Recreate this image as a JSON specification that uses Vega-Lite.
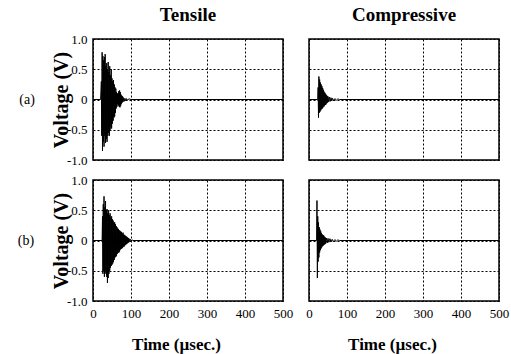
{
  "$schema": "https://vega.github.io/schema/vega-lite/v6.json",
  "background": "white",
  "padding": {"left": 17, "top": 6, "right": 2, "bottom": 2},
  "bounds": "flush",
  "data": {"values": [
    {"m":"Tensile","c":"(a)","t":0,"v":0},{"m":"Tensile","c":"(a)","t":20,"v":0},{"m":"Tensile","c":"(a)","t":22,"v":0.3},{"m":"Tensile","c":"(a)","t":23,"v":-0.6},{"m":"Tensile","c":"(a)","t":24,"v":0.78},{"m":"Tensile","c":"(a)","t":25,"v":-0.85},{"m":"Tensile","c":"(a)","t":26,"v":0.72},{"m":"Tensile","c":"(a)","t":27,"v":-0.7},{"m":"Tensile","c":"(a)","t":28,"v":0.65},{"m":"Tensile","c":"(a)","t":29,"v":-0.78},{"m":"Tensile","c":"(a)","t":30,"v":0.7},{"m":"Tensile","c":"(a)","t":31,"v":-0.6},{"m":"Tensile","c":"(a)","t":32,"v":0.75},{"m":"Tensile","c":"(a)","t":33,"v":-0.72},{"m":"Tensile","c":"(a)","t":34,"v":0.55},{"m":"Tensile","c":"(a)","t":35,"v":-0.65},{"m":"Tensile","c":"(a)","t":36,"v":0.6},{"m":"Tensile","c":"(a)","t":37,"v":-0.7},{"m":"Tensile","c":"(a)","t":38,"v":0.5},{"m":"Tensile","c":"(a)","t":39,"v":-0.6},{"m":"Tensile","c":"(a)","t":40,"v":0.62},{"m":"Tensile","c":"(a)","t":41,"v":-0.55},{"m":"Tensile","c":"(a)","t":42,"v":0.45},{"m":"Tensile","c":"(a)","t":43,"v":-0.6},{"m":"Tensile","c":"(a)","t":44,"v":0.55},{"m":"Tensile","c":"(a)","t":45,"v":-0.5},{"m":"Tensile","c":"(a)","t":46,"v":0.4},{"m":"Tensile","c":"(a)","t":47,"v":-0.45},{"m":"Tensile","c":"(a)","t":48,"v":0.5},{"m":"Tensile","c":"(a)","t":49,"v":-0.48},{"m":"Tensile","c":"(a)","t":50,"v":0.35},{"m":"Tensile","c":"(a)","t":51,"v":-0.4},{"m":"Tensile","c":"(a)","t":52,"v":0.3},{"m":"Tensile","c":"(a)","t":53,"v":-0.35},{"m":"Tensile","c":"(a)","t":54,"v":0.32},{"m":"Tensile","c":"(a)","t":55,"v":-0.3},{"m":"Tensile","c":"(a)","t":56,"v":0.25},{"m":"Tensile","c":"(a)","t":57,"v":-0.28},{"m":"Tensile","c":"(a)","t":58,"v":0.2},{"m":"Tensile","c":"(a)","t":59,"v":-0.22},{"m":"Tensile","c":"(a)","t":60,"v":0.18},{"m":"Tensile","c":"(a)","t":61,"v":-0.15},{"m":"Tensile","c":"(a)","t":62,"v":0.12},{"m":"Tensile","c":"(a)","t":63,"v":-0.12},{"m":"Tensile","c":"(a)","t":64,"v":0.1},{"m":"Tensile","c":"(a)","t":65,"v":-0.08},{"m":"Tensile","c":"(a)","t":66,"v":0.1},{"m":"Tensile","c":"(a)","t":67,"v":-0.1},{"m":"Tensile","c":"(a)","t":68,"v":0.14},{"m":"Tensile","c":"(a)","t":69,"v":-0.12},{"m":"Tensile","c":"(a)","t":70,"v":0.15},{"m":"Tensile","c":"(a)","t":71,"v":-0.13},{"m":"Tensile","c":"(a)","t":72,"v":0.12},{"m":"Tensile","c":"(a)","t":73,"v":-0.1},{"m":"Tensile","c":"(a)","t":74,"v":0.08},{"m":"Tensile","c":"(a)","t":75,"v":-0.07},{"m":"Tensile","c":"(a)","t":76,"v":0.06},{"m":"Tensile","c":"(a)","t":77,"v":-0.05},{"m":"Tensile","c":"(a)","t":78,"v":0.05},{"m":"Tensile","c":"(a)","t":79,"v":-0.04},{"m":"Tensile","c":"(a)","t":80,"v":0.03},{"m":"Tensile","c":"(a)","t":82,"v":-0.03},{"m":"Tensile","c":"(a)","t":84,"v":0.02},{"m":"Tensile","c":"(a)","t":86,"v":-0.02},{"m":"Tensile","c":"(a)","t":88,"v":0.015},{"m":"Tensile","c":"(a)","t":90,"v":-0.01},{"m":"Tensile","c":"(a)","t":95,"v":0.01},{"m":"Tensile","c":"(a)","t":100,"v":0},{"m":"Tensile","c":"(a)","t":500,"v":0},
    {"m":"Compressive","c":"(a)","t":0,"v":0},{"m":"Compressive","c":"(a)","t":23,"v":0},{"m":"Compressive","c":"(a)","t":24,"v":0.2},{"m":"Compressive","c":"(a)","t":25,"v":-0.3},{"m":"Compressive","c":"(a)","t":26,"v":0.38},{"m":"Compressive","c":"(a)","t":27,"v":-0.22},{"m":"Compressive","c":"(a)","t":28,"v":0.33},{"m":"Compressive","c":"(a)","t":29,"v":-0.2},{"m":"Compressive","c":"(a)","t":30,"v":0.28},{"m":"Compressive","c":"(a)","t":31,"v":-0.18},{"m":"Compressive","c":"(a)","t":32,"v":0.25},{"m":"Compressive","c":"(a)","t":33,"v":-0.16},{"m":"Compressive","c":"(a)","t":34,"v":0.22},{"m":"Compressive","c":"(a)","t":35,"v":-0.15},{"m":"Compressive","c":"(a)","t":36,"v":0.19},{"m":"Compressive","c":"(a)","t":37,"v":-0.13},{"m":"Compressive","c":"(a)","t":38,"v":0.16},{"m":"Compressive","c":"(a)","t":39,"v":-0.12},{"m":"Compressive","c":"(a)","t":40,"v":0.13},{"m":"Compressive","c":"(a)","t":41,"v":-0.1},{"m":"Compressive","c":"(a)","t":42,"v":0.11},{"m":"Compressive","c":"(a)","t":43,"v":-0.09},{"m":"Compressive","c":"(a)","t":44,"v":0.09},{"m":"Compressive","c":"(a)","t":45,"v":-0.08},{"m":"Compressive","c":"(a)","t":46,"v":0.07},{"m":"Compressive","c":"(a)","t":47,"v":-0.06},{"m":"Compressive","c":"(a)","t":48,"v":0.06},{"m":"Compressive","c":"(a)","t":49,"v":-0.05},{"m":"Compressive","c":"(a)","t":50,"v":0.05},{"m":"Compressive","c":"(a)","t":52,"v":-0.04},{"m":"Compressive","c":"(a)","t":54,"v":0.04},{"m":"Compressive","c":"(a)","t":56,"v":-0.03},{"m":"Compressive","c":"(a)","t":58,"v":0.03},{"m":"Compressive","c":"(a)","t":60,"v":-0.025},{"m":"Compressive","c":"(a)","t":62,"v":0.02},{"m":"Compressive","c":"(a)","t":65,"v":-0.02},{"m":"Compressive","c":"(a)","t":68,"v":0.015},{"m":"Compressive","c":"(a)","t":72,"v":-0.01},{"m":"Compressive","c":"(a)","t":76,"v":0.01},{"m":"Compressive","c":"(a)","t":80,"v":0},{"m":"Compressive","c":"(a)","t":500,"v":0},
    {"m":"Tensile","c":"(b)","t":0,"v":0},{"m":"Tensile","c":"(b)","t":24,"v":0},{"m":"Tensile","c":"(b)","t":25,"v":0.4},{"m":"Tensile","c":"(b)","t":26,"v":-0.55},{"m":"Tensile","c":"(b)","t":27,"v":0.6},{"m":"Tensile","c":"(b)","t":28,"v":-0.5},{"m":"Tensile","c":"(b)","t":29,"v":0.73},{"m":"Tensile","c":"(b)","t":30,"v":-0.6},{"m":"Tensile","c":"(b)","t":31,"v":0.55},{"m":"Tensile","c":"(b)","t":32,"v":-0.5},{"m":"Tensile","c":"(b)","t":33,"v":0.65},{"m":"Tensile","c":"(b)","t":34,"v":-0.55},{"m":"Tensile","c":"(b)","t":35,"v":0.5},{"m":"Tensile","c":"(b)","t":36,"v":-0.6},{"m":"Tensile","c":"(b)","t":37,"v":0.52},{"m":"Tensile","c":"(b)","t":38,"v":-0.7},{"m":"Tensile","c":"(b)","t":39,"v":0.45},{"m":"Tensile","c":"(b)","t":40,"v":-0.62},{"m":"Tensile","c":"(b)","t":41,"v":0.5},{"m":"Tensile","c":"(b)","t":42,"v":-0.55},{"m":"Tensile","c":"(b)","t":43,"v":0.42},{"m":"Tensile","c":"(b)","t":44,"v":-0.5},{"m":"Tensile","c":"(b)","t":45,"v":0.45},{"m":"Tensile","c":"(b)","t":46,"v":-0.45},{"m":"Tensile","c":"(b)","t":47,"v":0.38},{"m":"Tensile","c":"(b)","t":48,"v":-0.42},{"m":"Tensile","c":"(b)","t":49,"v":0.4},{"m":"Tensile","c":"(b)","t":50,"v":-0.4},{"m":"Tensile","c":"(b)","t":51,"v":0.35},{"m":"Tensile","c":"(b)","t":52,"v":-0.38},{"m":"Tensile","c":"(b)","t":53,"v":0.33},{"m":"Tensile","c":"(b)","t":54,"v":-0.35},{"m":"Tensile","c":"(b)","t":55,"v":0.3},{"m":"Tensile","c":"(b)","t":56,"v":-0.32},{"m":"Tensile","c":"(b)","t":57,"v":0.3},{"m":"Tensile","c":"(b)","t":58,"v":-0.28},{"m":"Tensile","c":"(b)","t":59,"v":0.27},{"m":"Tensile","c":"(b)","t":60,"v":-0.27},{"m":"Tensile","c":"(b)","t":61,"v":0.24},{"m":"Tensile","c":"(b)","t":62,"v":-0.25},{"m":"Tensile","c":"(b)","t":63,"v":0.22},{"m":"Tensile","c":"(b)","t":64,"v":-0.22},{"m":"Tensile","c":"(b)","t":65,"v":0.2},{"m":"Tensile","c":"(b)","t":66,"v":-0.2},{"m":"Tensile","c":"(b)","t":67,"v":0.19},{"m":"Tensile","c":"(b)","t":68,"v":-0.2},{"m":"Tensile","c":"(b)","t":69,"v":0.17},{"m":"Tensile","c":"(b)","t":70,"v":-0.18},{"m":"Tensile","c":"(b)","t":71,"v":0.16},{"m":"Tensile","c":"(b)","t":72,"v":-0.15},{"m":"Tensile","c":"(b)","t":73,"v":0.15},{"m":"Tensile","c":"(b)","t":74,"v":-0.14},{"m":"Tensile","c":"(b)","t":75,"v":0.14},{"m":"Tensile","c":"(b)","t":76,"v":-0.13},{"m":"Tensile","c":"(b)","t":77,"v":0.12},{"m":"Tensile","c":"(b)","t":78,"v":-0.12},{"m":"Tensile","c":"(b)","t":79,"v":0.13},{"m":"Tensile","c":"(b)","t":80,"v":-0.1},{"m":"Tensile","c":"(b)","t":81,"v":0.1},{"m":"Tensile","c":"(b)","t":82,"v":-0.1},{"m":"Tensile","c":"(b)","t":83,"v":0.09},{"m":"Tensile","c":"(b)","t":84,"v":-0.08},{"m":"Tensile","c":"(b)","t":85,"v":0.08},{"m":"Tensile","c":"(b)","t":86,"v":-0.07},{"m":"Tensile","c":"(b)","t":87,"v":0.07},{"m":"Tensile","c":"(b)","t":88,"v":-0.06},{"m":"Tensile","c":"(b)","t":89,"v":0.06},{"m":"Tensile","c":"(b)","t":90,"v":-0.05},{"m":"Tensile","c":"(b)","t":91,"v":0.05},{"m":"Tensile","c":"(b)","t":92,"v":-0.04},{"m":"Tensile","c":"(b)","t":93,"v":0.04},{"m":"Tensile","c":"(b)","t":94,"v":-0.03},{"m":"Tensile","c":"(b)","t":95,"v":0.03},{"m":"Tensile","c":"(b)","t":97,"v":-0.02},{"m":"Tensile","c":"(b)","t":99,"v":0.02},{"m":"Tensile","c":"(b)","t":101,"v":-0.01},{"m":"Tensile","c":"(b)","t":103,"v":0.01},{"m":"Tensile","c":"(b)","t":105,"v":0},{"m":"Tensile","c":"(b)","t":500,"v":0},
    {"m":"Compressive","c":"(b)","t":0,"v":0},{"m":"Compressive","c":"(b)","t":20,"v":0},{"m":"Compressive","c":"(b)","t":21,"v":0.66},{"m":"Compressive","c":"(b)","t":22,"v":-0.62},{"m":"Compressive","c":"(b)","t":23,"v":0.4},{"m":"Compressive","c":"(b)","t":24,"v":-0.35},{"m":"Compressive","c":"(b)","t":25,"v":0.3},{"m":"Compressive","c":"(b)","t":26,"v":-0.28},{"m":"Compressive","c":"(b)","t":27,"v":0.22},{"m":"Compressive","c":"(b)","t":28,"v":-0.2},{"m":"Compressive","c":"(b)","t":29,"v":0.18},{"m":"Compressive","c":"(b)","t":30,"v":-0.16},{"m":"Compressive","c":"(b)","t":31,"v":0.15},{"m":"Compressive","c":"(b)","t":32,"v":-0.13},{"m":"Compressive","c":"(b)","t":33,"v":0.12},{"m":"Compressive","c":"(b)","t":34,"v":-0.11},{"m":"Compressive","c":"(b)","t":35,"v":0.1},{"m":"Compressive","c":"(b)","t":36,"v":-0.09},{"m":"Compressive","c":"(b)","t":37,"v":0.09},{"m":"Compressive","c":"(b)","t":38,"v":-0.08},{"m":"Compressive","c":"(b)","t":39,"v":0.08},{"m":"Compressive","c":"(b)","t":40,"v":-0.07},{"m":"Compressive","c":"(b)","t":41,"v":0.06},{"m":"Compressive","c":"(b)","t":42,"v":-0.06},{"m":"Compressive","c":"(b)","t":43,"v":0.05},{"m":"Compressive","c":"(b)","t":44,"v":-0.05},{"m":"Compressive","c":"(b)","t":46,"v":0.04},{"m":"Compressive","c":"(b)","t":48,"v":-0.04},{"m":"Compressive","c":"(b)","t":50,"v":0.035},{"m":"Compressive","c":"(b)","t":52,"v":-0.03},{"m":"Compressive","c":"(b)","t":55,"v":0.03},{"m":"Compressive","c":"(b)","t":58,"v":-0.025},{"m":"Compressive","c":"(b)","t":61,"v":0.02},{"m":"Compressive","c":"(b)","t":64,"v":-0.02},{"m":"Compressive","c":"(b)","t":68,"v":0.015},{"m":"Compressive","c":"(b)","t":72,"v":-0.01},{"m":"Compressive","c":"(b)","t":76,"v":0.01},{"m":"Compressive","c":"(b)","t":80,"v":0},{"m":"Compressive","c":"(b)","t":500,"v":0}
  ]},
  "facet": {
    "column": {"field": "m", "type": "nominal", "sort": ["Tensile", "Compressive"],
      "header": {"title": null, "labelFont": "Liberation Serif", "labelFontWeight": "bold", "labelFontSize": 19, "labelColor": "black", "labelPadding": 14}},
    "row": {"field": "c", "type": "nominal", "sort": ["(a)", "(b)"],
      "header": {"title": null, "labelAngle": 0, "labelOrient": "left", "labelFont": "Liberation Serif", "labelFontSize": 14, "labelColor": "black", "labelPadding": 1}}
  },
  "spacing": {"column": 26, "row": 20},
  "spec": {
    "width": 190,
    "height": 121,
    "mark": {"type": "line", "color": "black", "strokeWidth": 1},
    "encoding": {
      "x": {"field": "t", "type": "quantitative", "scale": {"domain": [0, 500], "nice": false},
        "axis": {"values": [0, 100, 200, 300, 400, 500], "title": "Time (µsec.)", "titleFontSize": 17, "titleX": 83, "titleAlign": "center", "titlePadding": 16, "labelPadding": 6, "labelFlush": false, "labelFont": "Liberation Serif", "labelFontSize": 13, "titleFont": "Liberation Serif"}},
      "y": {"field": "v", "type": "quantitative", "scale": {"domain": [-1, 1], "nice": false},
        "axis": {"values": [-1, -0.5, 0, 0.5, 1], "labelExpr": "datum.value == 0 ? '0' : (datum.value < 0 ? '-' : '') + format(abs(datum.value), '.1f')", "title": "Voltage (V)", "titleFontSize": 20, "titlePadding": -5, "labelPadding": 6, "labelFont": "Liberation Serif", "labelFontSize": 13, "titleFont": "Liberation Serif"}}
    }
  },
  "config": {
    "font": "Liberation Serif",
    "view": {"stroke": "black", "strokeWidth": 1.5},
    "axis": {"grid": true, "gridColor": "black", "gridDash": [2, 2], "gridOpacity": 1, "gridWidth": 1, "domain": false, "ticks": false,
      "labelFont": "Liberation Serif", "labelFontSize": 13, "labelColor": "black",
      "titleFont": "Liberation Serif", "titleFontWeight": "bold", "titleColor": "black"}
  }
}
